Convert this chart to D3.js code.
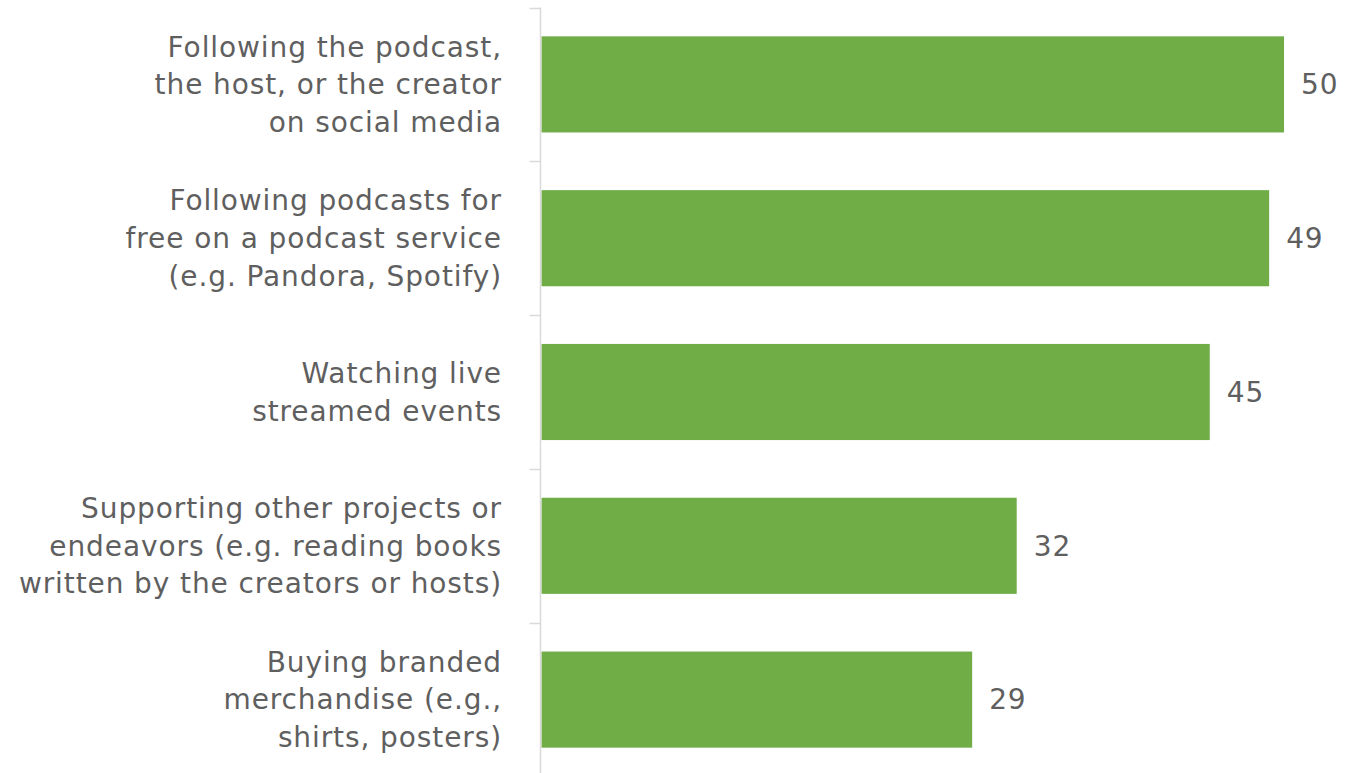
<!DOCTYPE html>
<html>
<head>
<meta charset="utf-8">
<script src="https://cdn.jsdelivr.net/npm/d3@7"></script>
<style>
  html, body { margin: 0; padding: 0; background: #fff; }
  svg { display: block; }
</style>
</head>
<body>
<div id="chart"></div>
<script>
'use strict'

// categories, one array of lines per bar
const categories = [
    ["Following the podcast,", "the host, or the creator", "on social media"],
    ["Following podcasts for", "free on a podcast service", "(e.g. Pandora, Spotify)"],
    ["Watching live", "streamed events"],
    ["Supporting other projects or", "endeavors (e.g. reading books", "written by the creators or hosts)"],
    ["Buying branded", "merchandise (e.g.,", "shirts, posters)"]
]
const values = [50, 49, 45, 32, 29]

////////////////////////////////////
//////////// svg setup /////////////
////////////////////////////////////

const svgWidth = 1345
const svgHeight = 773
const axisX = 540.5

const svg = d3.select('#chart')
    .append('svg')
    .attr('width', svgWidth)
    .attr('height', svgHeight)

const ids = categories.map((d, i) => i)

const y = d3.scaleBand()
    .domain(ids)
    .range([7.5, 776.5])
    .paddingInner(0.375)
    .paddingOuter(0.1875)

const x = d3.scaleLinear()
    .domain([0, 50])
    .range([axisX + 1, 1284])

const textColor = '#5f5f5f'
const font = '"DejaVu Sans", sans-serif'
const fontSize = 28
const spacing = 0.9

////////////////////////////////////
//////////// add to DOM ////////////
////////////////////////////////////

// bars
svg.append('g')
    .selectAll('rect')
    .data(values)
    .join('rect')
    .attr('x', x(0))
    .attr('y', (d, i) => y(i))
    .attr('width', d => x(d) - x(0))
    .attr('height', y.bandwidth())
    .attr('fill', '#70AD47')

// axis line + ticks at band boundaries
const axis = svg.append('g')
axis.append('line')
    .attr('x1', axisX).attr('x2', axisX)
    .attr('y1', y.range()[0]).attr('y2', svgHeight)
    .attr('stroke', '#d9d9d9')
    .attr('stroke-width', 1.5)

axis.selectAll('.tick')
    .data(ids)
    .join('line')
    .attr('class', 'tick')
    .attr('x1', axisX - 11).attr('x2', axisX)
    .attr('y1', (d, i) => Math.round(y.range()[0] + i * y.step()) + 0.5)
    .attr('y2', (d, i) => Math.round(y.range()[0] + i * y.step()) + 0.5)
    .attr('stroke', '#d9d9d9')
    .attr('stroke-width', 1.5)

// category labels
const lineH = 37.6
svg.append('g')
    .selectAll('text')
    .data(categories)
    .join('text')
    .attr('text-anchor', 'end')
    .attr('font-family', font)
    .attr('font-size', fontSize)
    .attr('letter-spacing', spacing)
    .attr('fill', textColor)
    .each(function (lines, i) {
        const cy = y(i) + y.bandwidth() / 2
        const top = cy - (lines.length - 1) * lineH / 2
        d3.select(this).selectAll('tspan')
            .data(lines)
            .join('tspan')
            .attr('x', 502)
            .attr('y', (l, j) => top + j * lineH)
            .attr('dy', '0.35em')
            .text(l => l)
    })

// value labels
svg.append('g')
    .selectAll('text')
    .data(values)
    .join('text')
    .attr('x', d => x(d) + 17)
    .attr('y', (d, i) => y(i) + y.bandwidth() / 2)
    .attr('dy', '0.35em')
    .attr('font-family', font)
    .attr('font-size', fontSize)
    .attr('letter-spacing', spacing)
    .attr('fill', textColor)
    .text(d => d)
</script>
</body>
</html>
